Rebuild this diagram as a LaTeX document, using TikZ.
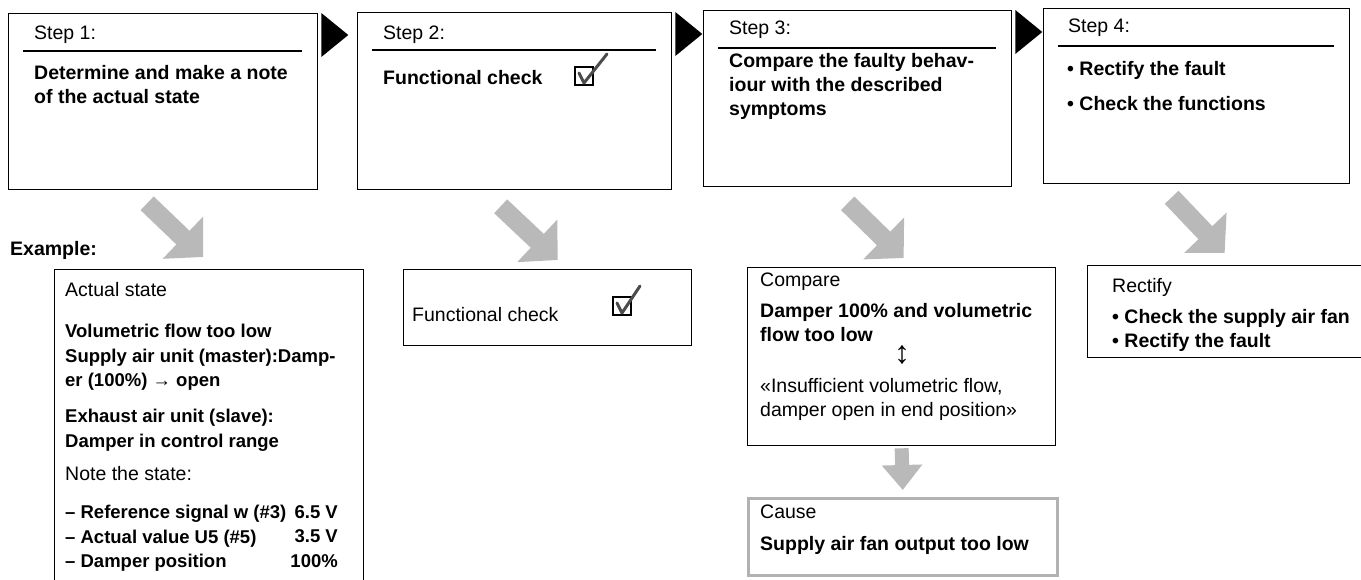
\documentclass[tikz,border=0pt]{standalone}
\usepackage{fontspec}
\setmainfont{Liberation Sans}
\usetikzlibrary{arrows.meta}

\tikzset{
  frame/.style={draw, line width=1.3pt, anchor=north west, inner sep=0pt},
  regtext/.style={anchor=base west, inner sep=0pt, align=left,
    font=\fontsize{19.5}{24}\selectfont},
  boldtext/.style={anchor=north west, inner sep=0pt, align=left,
    font=\fontsize{19.5}{24}\selectfont\bfseries},
  small/.style={font=\fontsize{18.5}{24.5}\selectfont\bfseries},
  rule/.style={line width=1.2pt},
  greyarrow/.style={gray!55, line width=19pt, -{Triangle[length=28pt, width=57pt]}},
  greydown/.style={gray!55, line width=14pt, -{Triangle[length=25pt, width=39pt]}},
  tick/.style={black!70, line width=3pt, line cap=round, line join=round},
}

\begin{document}
\begin{tikzpicture}[x=1pt, y=-1pt]
  \path[use as bounding box, clip] (0,0) rectangle (1361,580);

  % Top row: the four steps
  \node[frame, minimum width=309pt, minimum height=176pt] (s1) at (8,13) {};
  \node[frame, minimum width=314pt, minimum height=177pt] (s2) at (357,12) {};
  \node[frame, minimum width=308pt, minimum height=176pt] (s3) at (703,10) {};
  \node[frame, minimum width=306pt, minimum height=175pt] (s4) at (1043,8) {};

  \node[regtext] (s1head) at (34,40) {Step 1:};
  \node[regtext] (s2head) at (383,40) {Step 2:};
  \node[regtext] (s3head) at (729,35) {Step 3:};
  \node[regtext] (s4head) at (1068,33) {Step 4:};
  \foreach \s in {s1,s2,s3,s4}
    \draw[rule] ([xshift=15pt,yshift=-38pt]\s.north west) -- ([xshift=-16pt,yshift=-38pt]\s.north east);

  \node[boldtext] (s1body) at (34,65) {Determine and make a note\\of the actual state};
  \node[boldtext, anchor=base west] (s2body) at (383,85) {Functional check};
  \node[boldtext] (s3body) at (729,53) {Compare the faulty behav-\\iour with the described\\symptoms};
  \node[boldtext] (s4body) at (1067,61) {• Rectify the fault\\[11pt]• Check the functions};

  \draw[line width=1.2pt] (575,67) rectangle ++(18,18);
  \draw[tick] (579,73) -- (584,83) -- (607,54);

  % black pointers between the steps
  \foreach \s in {s1,s2,s3}
    \fill ([xshift=3pt]\s.north east) -- ++(0,44) -- ++(27,-22) -- cycle;

  % Bottom row: the example
  \node[boldtext, anchor=base west] (example) at (10,256) {Example:};

  \node[frame, minimum width=309pt, minimum height=340pt] (actual) at (54,269) {};
  \node[regtext] (acthead) at (65,297) {Actual state};
  \node[boldtext, small] (act1) at (65,324) {Volumetric flow too low\\Supply air unit (master):Damp-\\er (100\%) {\mdseries →} open};
  \node[boldtext, small] (act2) at (65,409) {Exhaust air unit (slave):\\Damper in control range};
  \node[regtext] (actnote) at (65,480) {Note the state:};
  \node[boldtext, small] (act3) at (65,505) {– Reference signal w (\#3)\\– Actual value U5 (\#5)\\– Damper position};
  \node[boldtext, small, anchor=north east, align=right] (act4) at (338,505) {6.5 V\\3.5 V\\100\%};

  \node[frame, minimum width=288pt, minimum height=76pt] (fcheck) at (403,269) {};
  \node[regtext] (fchecktext) at (412,321) {Functional check};
  \draw[line width=1.2pt] (613,297) rectangle ++(18,18);
  \draw[tick] (617,303) -- (622,313) -- (640,286);

  \node[frame, minimum width=308pt, minimum height=178pt] (cmp) at (747,267) {};
  \node[regtext] (cmphead) at (760,287) {Compare};
  \node[boldtext] (cmp1) at (760,303) {Damper 100\% and volumetric\\flow too low};
  \node[regtext, anchor=center, font=\fontsize{32}{32}\selectfont] (cmparrow) at (902,355) {↕};
  \node[regtext, anchor=north west] (cmp2) at (760,378) {«Insufficient volumetric flow,\\damper open in end position»};

  \node[frame, draw=gray!60, line width=2.5pt, minimum width=309pt, minimum height=77pt] (cause) at (747,497) {};
  \node[regtext] (causehead) at (760,518) {Cause};
  \node[boldtext, anchor=base west] (causetext) at (760,550) {Supply air fan output too low};

  \node[frame, minimum width=290pt, minimum height=92pt] (rect) at (1087,265) {};
  \node[regtext] (recthead) at (1112,293) {Rectify};
  \node[boldtext] (recttext) at (1112,309) {• Check the supply air fan\\• Rectify the fault};

  % grey arrows from each step to its example
  \draw[greyarrow] ([xshift=-16pt,yshift=-13pt]s1.south) -- ([xshift=-6pt,yshift=12pt]actual.north);
  \draw[greyarrow] ([xshift=-14pt,yshift=-16pt]s2.south) -- ([xshift=10pt,yshift=9pt]fcheck.north);
  \draw[greyarrow] ([xshift=-10pt,yshift=-16pt]s3.south) -- ([xshift=2pt,yshift=9pt]cmp.north);
  \draw[greyarrow] ([xshift=-25pt,yshift=-13pt]s4.south) -- ([xshift=-8pt,yshift=12pt]rect.north);
  \draw[greydown] ([yshift=-2pt]cmp.south) -- ([yshift=7pt]cause.north);
\end{tikzpicture}
\end{document}
